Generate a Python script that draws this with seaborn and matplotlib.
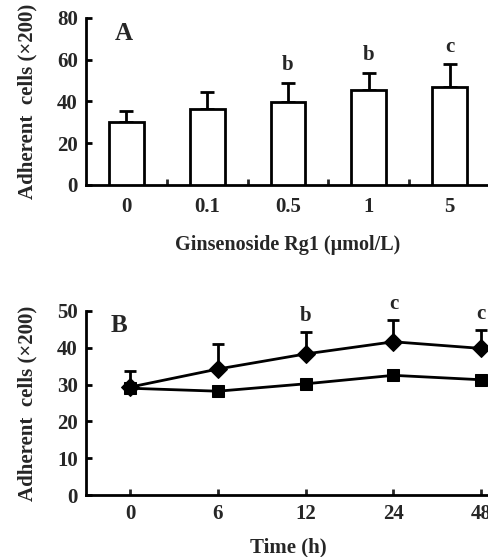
import numpy as np
import pandas as pd
import matplotlib
matplotlib.use("Agg")
import matplotlib.pyplot as plt
import seaborn as sns

# Panel A: dose response
doses = ["0", "0.1", "0.5", "1", "5"]
dose_mean = [30.0, 36.5, 39.5, 45.3, 47.0]
dose_sd = [5.5, 7.8, 9.5, 8.5, 10.8]
dose_marks = ["", "", "b", "b", "c"]

# Panel B: time course
times = ["0", "6", "12", "24", "48"]
rg1_mean = [29.3, 34.2, 38.3, 41.6, 39.8]
rg1_sd = [4.5, 6.8, 5.9, 5.8, 4.9]
ctrl_mean = [29.0, 28.2, 30.2, 32.5, 31.3]
time_marks = ["", "", "b", "c", "c"]

sns.set_theme(style="ticks")
plt.rcParams["font.family"] = ["Liberation Serif", "DejaVu Serif"]
plt.rcParams["font.weight"] = "bold"

fig = plt.figure(figsize=(4.89, 5.57), dpi=100)
axA = fig.add_axes([0.176, 0.668, 0.826, 0.300])
axB = fig.add_axes([0.176, 0.111, 0.826, 0.331])

LW = 2.0
FS = 15
tick_kw = dict(labelsize=FS, width=LW, length=4, direction="in", color="black", pad=6)

# ---- A ----
dfA = pd.DataFrame({"dose": doses, "cells": dose_mean})
sns.barplot(data=dfA, x="dose", y="cells", ax=axA, color="white",
            edgecolor="black", linewidth=LW, width=0.43, errorbar=None, zorder=3)
xa = np.arange(len(doses))
axA.errorbar(xa, dose_mean, yerr=[np.zeros(len(doses)), dose_sd], fmt="none",
             ecolor="black", elinewidth=LW, capsize=5, capthick=LW, zorder=2)
for i, m in enumerate(dose_marks):
    if m:
        axA.text(i, dose_mean[i] + dose_sd[i] + 3.5, m, ha="center", va="bottom",
                 fontsize=FS, fontweight="bold")
axA.text(-0.03, 72.5, "A", fontsize=18, fontweight="bold", ha="center", va="center")
axA.set_xlim(-0.5, 4.5)
axA.set_ylim(0, 80)
axA.set_yticks([0, 20, 40, 60, 80])
axA.set_xticks(xa)
axA.set_xticks(np.arange(0.5, 4.0, 1.0), minor=True)
axA.tick_params(axis="y", **tick_kw)
axA.tick_params(axis="x", which="major", length=0, labelsize=FS, pad=9)
axA.tick_params(axis="x", which="minor", length=4, width=LW, direction="in")
axA.set_xlabel("Ginsenoside Rg1 (μmol/L)", fontsize=14.5, fontweight="bold", labelpad=13)
axA.set_ylabel("Adherent  cells (×200)", fontsize=15, fontweight="bold", labelpad=14)

# ---- B ----
xb = np.arange(len(times))
sns.lineplot(x=xb, y=ctrl_mean, ax=axB, color="black", linewidth=LW, marker="s",
             markersize=9, markeredgecolor="black", zorder=3)
sns.lineplot(x=xb, y=rg1_mean, ax=axB, color="black", linewidth=LW, marker="D",
             markersize=9, markeredgecolor="black", zorder=3)
axB.errorbar(xb, rg1_mean, yerr=[np.zeros(len(times)), rg1_sd], fmt="none",
             ecolor="black", elinewidth=LW, capsize=4.5, capthick=LW, zorder=2)
for i, m in enumerate(time_marks):
    if m:
        axB.text(i, rg1_mean[i] + rg1_sd[i] + 1.6, m, ha="center", va="bottom",
                 fontsize=FS, fontweight="bold")
axB.text(-0.12, 46, "B", fontsize=18, fontweight="bold", ha="center", va="center")
axB.set_xlim(-0.5, 4.1)
axB.set_ylim(0, 50)
axB.set_yticks([0, 10, 20, 30, 40, 50])
axB.set_xticks(xb)
axB.set_xticklabels(times)
axB.tick_params(axis="y", **tick_kw)
axB.tick_params(axis="x", labelsize=FS, width=LW, length=4, direction="in", pad=6)
axB.set_xlabel("Time (h)", fontsize=15, fontweight="bold", labelpad=10)
axB.set_ylabel("Adherent  cells (×200)", fontsize=15, fontweight="bold", labelpad=14)

for ax in (axA, axB):
    sns.despine(ax=ax)
    for s in ("left", "bottom"):
        ax.spines[s].set_linewidth(LW)
        ax.spines[s].set_color("black")
    for lab in ax.get_xticklabels() + ax.get_yticklabels():
        lab.set_fontweight("bold")

fig.savefig("out.png", dpi=100)
